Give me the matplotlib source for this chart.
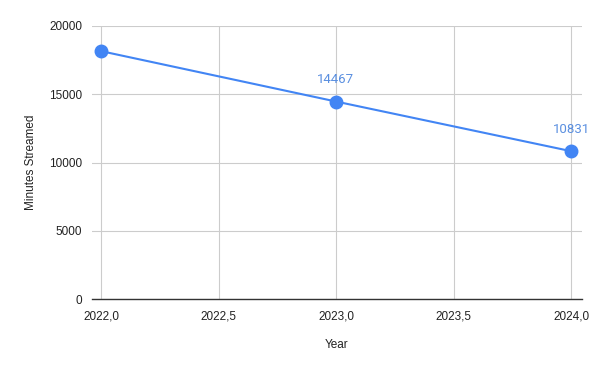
import matplotlib.pyplot as plt
from matplotlib.ticker import FuncFormatter, MultipleLocator

years = [2022, 2023, 2024]
minutes = [18160, 14467, 10831]
labeled = [False, True, True]

plt.rcParams["font.family"] = ["Liberation Sans", "DejaVu Sans"]

fig = plt.figure(figsize=(6, 3.71), dpi=100)
ax = fig.add_axes([92 / 600, 1 - 299 / 371, 490 / 600, 273 / 371])

line_color = "#4285f4"
ax.plot(years, minutes, color=line_color, linewidth=1.5, marker="o",
        markersize=9, zorder=3, clip_on=False)

for x, y, show in zip(years, minutes, labeled):
    if show:
        ax.annotate(str(y), (x, y), xytext=(0, 11), textcoords="offset points",
                    ha="center", va="bottom", color="#5a8fe0", fontsize=9.5,
                    family=["Roboto", "DejaVu Sans"])

ax.set_xlim(2022 - 9 / 235, 2024 + 11 / 235)
ax.set_ylim(0, 20000)
ax.xaxis.set_major_locator(MultipleLocator(0.5))
ax.yaxis.set_major_locator(MultipleLocator(5000))
ax.xaxis.set_major_formatter(FuncFormatter(lambda v, p: f"{v:.1f}".replace(".", ",")))

ax.grid(True, color="#cccccc", linewidth=0.8)
ax.set_axisbelow(True)
for side in ["top", "right", "left"]:
    ax.spines[side].set_visible(False)
ax.spines["bottom"].set_color("#333333")
ax.spines["bottom"].set_linewidth(1)
ax.tick_params(length=0, labelsize=8.5, colors="#222222")
ax.tick_params(axis="x", pad=8)
ax.tick_params(axis="y", pad=7)

ax.set_xlabel("Year", fontsize=8.5, color="#222222", labelpad=12)
ax.set_ylabel("Minutes Streamed", fontsize=8.5, color="#222222", labelpad=9)

fig.savefig("out.png", dpi=100)
